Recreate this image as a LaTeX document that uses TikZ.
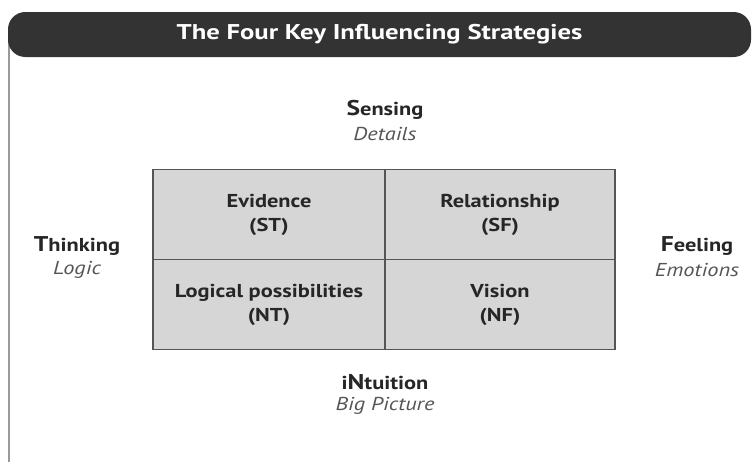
\documentclass[tikz,border=0pt]{standalone}
\usepackage{fontspec}
\setmainfont[FakeStretch=1.2]{PT Sans}
\newfontfamily\titlefont[FakeStretch=1.25]{PT Sans}
\definecolor{barcol}{HTML}{333333}
\definecolor{cellfill}{HTML}{D6D6D6}
\definecolor{cellline}{HTML}{555555}
\definecolor{subcol}{HTML}{555555}
\definecolor{framecol}{HTML}{9A9A9A}
\begin{document}
\begin{tikzpicture}[x=0.75pt,y=-0.75pt,
  cell/.style={fill=cellfill,draw=cellline,line width=1.1pt,inner sep=0pt},
  celltext/.style={font=\fontsize{14}{18}\selectfont\bfseries,text=black!85,align=center},
  axis/.style={font=\fontsize{14}{16}\selectfont\bfseries,text=black!85,align=center},
  sub/.style={font=\fontsize{14}{16}\selectfont\itshape,text=subcol,align=center}]
\useasboundingbox (0,0) rectangle (752,462);
\fill[white] (0,0) rectangle (752,462);
% frame line
\draw[framecol,line width=1.2pt] (9,40) -- (9,462);
% title bar
\node[fill=barcol,rounded corners=13pt,minimum width=743*0.75pt,minimum height=45*0.75pt,inner sep=0pt] (bar) at (379.5,34.5) {};
\node[text=white,font=\titlefont\fontsize{16}{18}\selectfont\bfseries] (title) at (bar) {The Four Key Influencing Strategies};
% grid
\node[cell,minimum width=232*0.75pt,minimum height=90*0.75pt] (st) at (269,214.5) {};
\node[cell,minimum width=230*0.75pt,minimum height=90*0.75pt] (sf) at (500,214.5) {};
\node[cell,minimum width=232*0.75pt,minimum height=90*0.75pt] (nt) at (269,304.5) {};
\node[cell,minimum width=230*0.75pt,minimum height=90*0.75pt] (nf) at (500,304.5) {};
\node[celltext] (stt) at (st) {Evidence\\(ST)};
\node[celltext] (sft) at (sf) {Relationship\\(SF)};
\node[celltext] (ntt) at (nt) {Logical possibilities\\(NT)};
\node[celltext] (nft) at (nf) {Vision\\(NF)};
% axis labels
\node[axis] (sens) at (385,110) {{\fontsize{16}{16}\selectfont S}ensing};
\node[sub] (det) at (385,134) {Details};
\node[axis] (think) at (77,246) {{\fontsize{16}{16}\selectfont T}hinking};
\node[sub] (logic) at (77,270) {Logic};
\node[axis] (feel) at (697,246) {{\fontsize{16}{16}\selectfont F}eeling};
\node[sub] (emo) at (697,270) {Emotions};
\node[axis] (intu) at (385,382) {i{\fontsize{16}{16}\selectfont N}tuition};
\node[sub] (big) at (385,406) {Big Picture};
\end{tikzpicture}
\end{document}
